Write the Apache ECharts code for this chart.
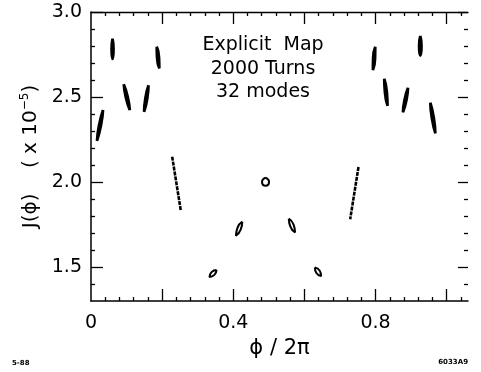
<!DOCTYPE html>
<html>
<head>
<meta charset="utf-8">
<script src="https://cdn.jsdelivr.net/npm/echarts@6/dist/echarts.min.js"></script>
<style>
html,body{margin:0;padding:0;background:#fff;}
#chart{width:481px;height:372px;}
</style>
</head>
<body>
<div id="chart"></div>
<script>
// ---- values ----
const xTickLabels = [0, 0.4, 0.8];
const yTickLabels = [1.5, 2.0, 2.5, 3.0];
const xMajorTicks = [0.2, 0.4, 0.6, 0.8, 1.0];
const yMajorTicks = [1.5, 2.0, 2.5, 3.0];

// island outlines (top, right, bottom, left, back to top), phi/2pi vs J
const island01 = [[0.0338,2.4235],[0.0282,2.3332],[0.0169,2.2429],[0.0225,2.3332],[0.0338,2.4235]];
const island02 = [[0.0606,2.8429],[0.0634,2.7832],[0.0606,2.7235],[0.0578,2.7832],[0.0606,2.8429]];
const island03 = [[0.1848,2.7959],[0.1913,2.7324],[0.1921,2.6688],[0.1856,2.7324],[0.1848,2.7959]];
const island04 = [[0.0921,2.5747],[0.1034,2.4991],[0.1090,2.4235],[0.0977,2.4991],[0.0921,2.5747]];
const island05 = [[0.1617,2.5688],[0.1583,2.4912],[0.1493,2.4135],[0.1527,2.4912],[0.1617,2.5688]];
const island13 = [[0.7992,2.7959],[0.7988,2.7274],[0.7927,2.6588],[0.7931,2.7274],[0.7992,2.7959]];
const island14 = [[0.9259,2.8588],[0.9293,2.8009],[0.9259,2.7429],[0.9225,2.8009],[0.9259,2.8588]];
const island15 = [[0.8245,2.6076],[0.8320,2.5282],[0.8338,2.4488],[0.8263,2.5282],[0.8245,2.6076]];
const island16 = [[0.8913,2.5547],[0.8871,2.4824],[0.8772,2.4100],[0.8814,2.4824],[0.8913,2.5547]];
const island17 = [[0.9541,2.4665],[0.9640,2.3765],[0.9682,2.2865],[0.9583,2.3765],[0.9541,2.4665]];
// small rings in the middle
const island07 = [[0.4907,2.0253],[0.5006,2.0018],[0.4907,1.9782],[0.4808,2.0018],[0.4907,2.0253]];
const island08 = [[0.4254,1.7665],[0.4211,1.7212],[0.4076,1.6841],[0.4118,1.7300],[0.4254,1.7665]];
const island09 = [[0.3530,1.4824],[0.3468,1.4535],[0.3332,1.4412],[0.3389,1.4700],[0.3530,1.4824]];
const island10 = [[0.5561,1.7841],[0.5696,1.7488],[0.5738,1.7041],[0.5603,1.7394],[0.5561,1.7841]];
const island11 = [[0.6293,1.4971],[0.6427,1.4791],[0.6470,1.4471],[0.6337,1.4651],[0.6293,1.4971]];
// thin dotted chains
const chain06 = [[0.2282,2.149],[0.2527,1.829]];
const chain12 = [[0.7521,2.0882],[0.7287,1.7806]];

// ---- chart ----
const FONT = '"DejaVu Sans", sans-serif';
const xMinorTicks = [];
for (let i = 1; i <= 26; i++) { if (i % 5 !== 0) xMinorTicks.push(+(i * 0.04).toFixed(2)); }
const yMinorTicks = [];
for (let i = 14; i <= 29; i++) { if (i % 5 !== 0) yMinorTicks.push(+(i * 0.1).toFixed(1)); }

const black = '#000';
function xAx(pos, ticks, len, showLine, extra) {
  return Object.assign({
    type: 'value', position: pos, min: 0, max: 1.06,
    splitLine: { show: false },
    axisLine: { show: showLine, onZero: false, lineStyle: { color: black, width: 1.5 } },
    axisTick: { show: true, inside: true, length: len, customValues: ticks, lineStyle: { color: black, width: 1.3 } },
    axisLabel: { show: false }
  }, extra || {});
}
function yAx(pos, ticks, len, showLine, extra) {
  return Object.assign({
    type: 'value', position: pos, min: 1.3, max: 3.0,
    splitLine: { show: false },
    axisLine: { show: showLine, onZero: false, lineStyle: { color: black, width: 1.5 } },
    axisTick: { show: true, inside: true, length: len, customValues: ticks, lineStyle: { color: black, width: 1.3 } },
    axisLabel: { show: false }
  }, extra || {});
}

const blobs = [island01, island02, island03, island04, island05, island13, island14, island15, island16, island17];
const rings = [island07, island08, island09, island10, island11];
const chains = [chain06, chain12];

const series = [];
blobs.forEach(d => series.push({ type: 'line', data: d, smooth: 0.6, symbol: 'none', silent: true,
  lineStyle: { color: black, width: 2.7 } }));
rings.forEach(d => series.push({ type: 'line', data: d, smooth: 0.6, symbol: 'none', silent: true,
  lineStyle: { color: black, width: 2 } }));
chains.forEach(d => series.push({ type: 'line', data: d, symbol: 'none', silent: true,
  lineStyle: { color: black, width: 2.6, type: [4, 1] } }));

const option = {
  animation: false,
  backgroundColor: '#fff',
  grid: { left: 91, right: 13, top: 12, bottom: 71 },
  xAxis: [
    xAx('bottom', xMajorTicks, 12, true, {
      axisLabel: { show: true, customValues: xTickLabels, margin: 13, color: black, fontSize: 19, fontFamily: FONT,
        formatter: v => (v === 0 ? '0' : v.toFixed(1)) },
      name: 'ϕ / 2π', nameLocation: 'middle', nameGap: 36,
      nameTextStyle: { color: black, fontSize: 21, fontFamily: FONT }
    }),
    xAx('bottom', xMinorTicks, 4, false),
    xAx('top', xMajorTicks, 12, true, { axisLine: { show: true, onZero: false, lineStyle: { color: black, width: 1.3 } } }),
    xAx('top', xMinorTicks, 4, false)
  ],
  yAxis: [
    yAx('left', yMajorTicks, 12, true, {
      axisLabel: { show: true, customValues: yTickLabels, margin: 9, color: black, fontSize: 19, fontFamily: FONT,
        formatter: v => v.toFixed(1) },
      name: '{a|J(ϕ)}    {a|( x 10}{s|−5}{a|)}', nameLocation: 'middle', nameGap: 46,
      nameTextStyle: { color: black, fontSize: 20, fontFamily: FONT,
        rich: { a: { fontSize: 20, fontFamily: FONT, color: black, lineHeight: 24 },
                s: { fontSize: 12, fontFamily: FONT, color: black, verticalAlign: 'top', lineHeight: 14 } } }
    }),
    yAx('left', yMinorTicks, 4, false),
    yAx('right', yMajorTicks, 10, false),
    yAx('right', yMinorTicks, 4, false)
  ],
  series: series,
  graphic: [
    { type: 'text', silent: true,
      style: { text: 'Explicit  Map\n2000 Turns\n32 modes', x: 263, y: 69, fill: black,
        font: '19px ' + FONT, textAlign: 'center', textVerticalAlign: 'middle', lineHeight: 23.5 } },
    { type: 'text', silent: true, style: { text: '5-88', x: 12, y: 363, fill: black, font: 'bold 7px ' + FONT, textVerticalAlign: 'middle' } },
    { type: 'text', silent: true, style: { text: '6033A9', x: 468, y: 362, fill: black, font: 'bold 7px ' + FONT, textAlign: 'right', textVerticalAlign: 'middle' } }
  ]
};
const chart = echarts.init(document.getElementById('chart'), null, { renderer: 'canvas' });
chart.setOption(option);
</script>
</body>
</html>
